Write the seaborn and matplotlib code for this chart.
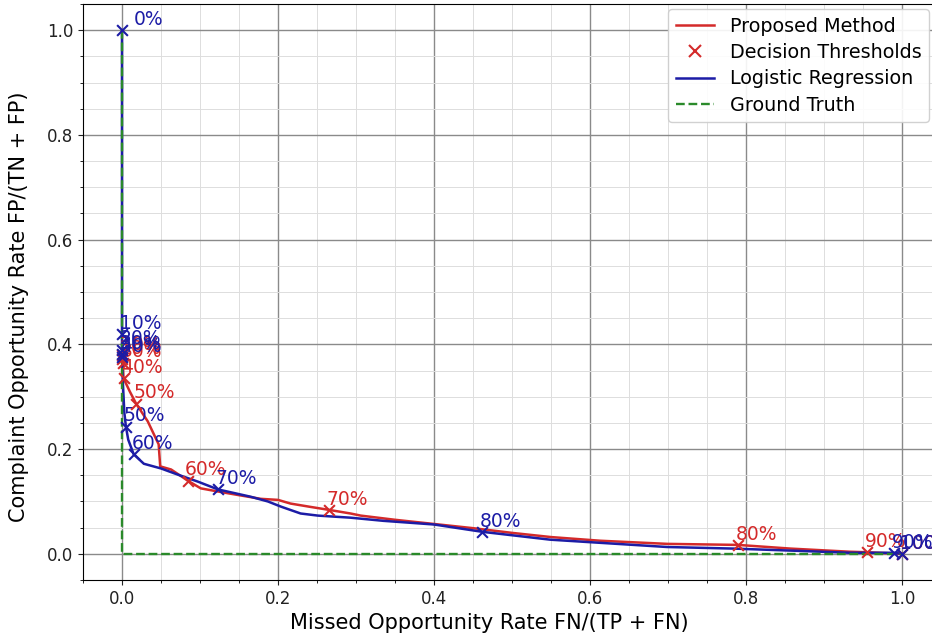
import numpy as np
import pandas as pd
import seaborn as sns
import matplotlib.pyplot as plt
from matplotlib.ticker import MultipleLocator
from matplotlib.lines import Line2D

# curve
prop_x = [0.0, 0.0, 0.001, 0.002, 0.01, 0.018, 0.033, 0.047, 0.049, 0.063, 0.084, 0.101,
          0.123, 0.15, 0.178, 0.2, 0.216, 0.24, 0.265, 0.293, 0.306, 0.35, 0.4, 0.45,
          0.5, 0.55, 0.613, 0.699, 0.79, 0.857, 0.933, 0.955, 1.0]
prop_y = [0.38, 0.372, 0.365, 0.335, 0.31, 0.287, 0.253, 0.209, 0.167, 0.161, 0.14, 0.125,
          0.119, 0.112, 0.105, 0.103, 0.096, 0.09, 0.084, 0.077, 0.073, 0.065, 0.057, 0.049,
          0.04, 0.032, 0.025, 0.019, 0.017, 0.01, 0.004, 0.003, 0.0]

logit_x = [0.0, 0.0, 0.0, 0.0, 0.001, 0.003, 0.005, 0.008, 0.015, 0.028, 0.05, 0.072,
           0.097, 0.123, 0.165, 0.187, 0.204, 0.229, 0.251, 0.293, 0.335, 0.4, 0.462,
           0.549, 0.613, 0.699, 0.784, 0.86, 0.933, 0.99, 1.0]
logit_y = [1.0, 0.42, 0.39, 0.375, 0.33, 0.27, 0.243, 0.218, 0.19, 0.172, 0.163, 0.151,
           0.138, 0.123, 0.109, 0.1, 0.09, 0.077, 0.073, 0.069, 0.063, 0.056, 0.042,
           0.027, 0.021, 0.013, 0.01, 0.006, 0.002, 0.002, 0.0]

# decision thresholds
prop_labels = ['10%', '20%', '30%', '40%', '50%', '60%', '70%', '80%', '90%', '100%']
prop_tx = [0.0, 0.0, 0.001, 0.002, 0.018, 0.084, 0.265, 0.79, 0.955, 1.0]
prop_ty = [0.38, 0.372, 0.365, 0.335, 0.287, 0.14, 0.084, 0.017, 0.003, 0.0]

logit_labels = ['0%', '10%', '20%', '30%', '40%', '50%', '60%', '70%', '80%', '90%', '100%']
logit_tx = [0.0, 0.0, 0.0, 0.0, 0.0, 0.005, 0.015, 0.123, 0.462, 0.99, 1.0]
logit_ty = [1.0, 0.42, 0.39, 0.382, 0.375, 0.243, 0.19, 0.123, 0.042, 0.002, 0.0]

truth_x = [0.0, 0.0, 1.0]
truth_y = [1.0, 0.0, 0.0]

red = '#d42a2a'
blue = '#1c1ca6'
green = '#2a8a2a'

plt.rcParams['font.size'] = 13

fig = plt.figure(figsize=(9.32, 6.36), dpi=100)
ax = fig.add_axes([83 / 932, 56 / 636, 858 / 932, 576 / 636])

sns.lineplot(ax=ax, x=prop_x, y=prop_y, sort=False, estimator=None, color=red, lw=1.8)
sns.lineplot(ax=ax, x=logit_x, y=logit_y, sort=False, estimator=None, color=blue, lw=1.8)
sns.lineplot(ax=ax, x=truth_x, y=truth_y, sort=False, estimator=None, color=green,
             lw=1.7, linestyle='--')

sns.scatterplot(ax=ax, x=prop_tx, y=prop_ty, marker='x', color=red, s=60, linewidth=1.5, zorder=4)
sns.scatterplot(ax=ax, x=logit_tx, y=logit_ty, marker='x', color=blue, s=60, linewidth=1.5, zorder=4)

for x, y, t in zip(prop_tx, prop_ty, prop_labels):
    ax.text(x - 0.003, y + 0.01, t, color=red, fontsize=13.5)
for x, y, t in zip(logit_tx, logit_ty, logit_labels):
    dx = 0.015 if t == '0%' else -0.003
    ax.text(x + dx, y + 0.01, t, color=blue, fontsize=13.5)

ax.set_xlim(-0.05, 1.05)
ax.set_ylim(-0.05, 1.05)
ax.xaxis.set_minor_locator(MultipleLocator(0.05))
ax.yaxis.set_minor_locator(MultipleLocator(0.05))
ax.grid(which='major', color='#8a8a8a', lw=1.0)
ax.grid(which='minor', color='#dddddd', lw=0.7)
ax.set_axisbelow(True)
ax.tick_params(labelsize=12, colors='#222222')

ax.set_xlabel('Missed Opportunity Rate FN/(TP + FN)', fontsize=15)
ax.set_ylabel('Complaint Opportunity Rate FP/(TN + FP)', fontsize=15)
ax.xaxis.set_label_coords(0.474, -0.057)
ax.yaxis.set_label_coords(-0.063, 0.474)

handles = [
    Line2D([], [], color=red, lw=1.8),
    Line2D([], [], color=red, marker='x', linestyle='None', markersize=8, mew=1.5),
    Line2D([], [], color=blue, lw=1.8),
    Line2D([], [], color=green, lw=1.7, linestyle='--'),
]
ax.legend(handles, ['Proposed Method', 'Decision Thresholds', 'Logistic Regression', 'Ground Truth'],
          loc='upper right', bbox_to_anchor=(929 / 932, 1 - 9 / 636),
          bbox_transform=fig.transFigure, fontsize=13.8, labelspacing=0.38,
          borderaxespad=0, framealpha=0.9)

fig.savefig('out.png', dpi=100)
